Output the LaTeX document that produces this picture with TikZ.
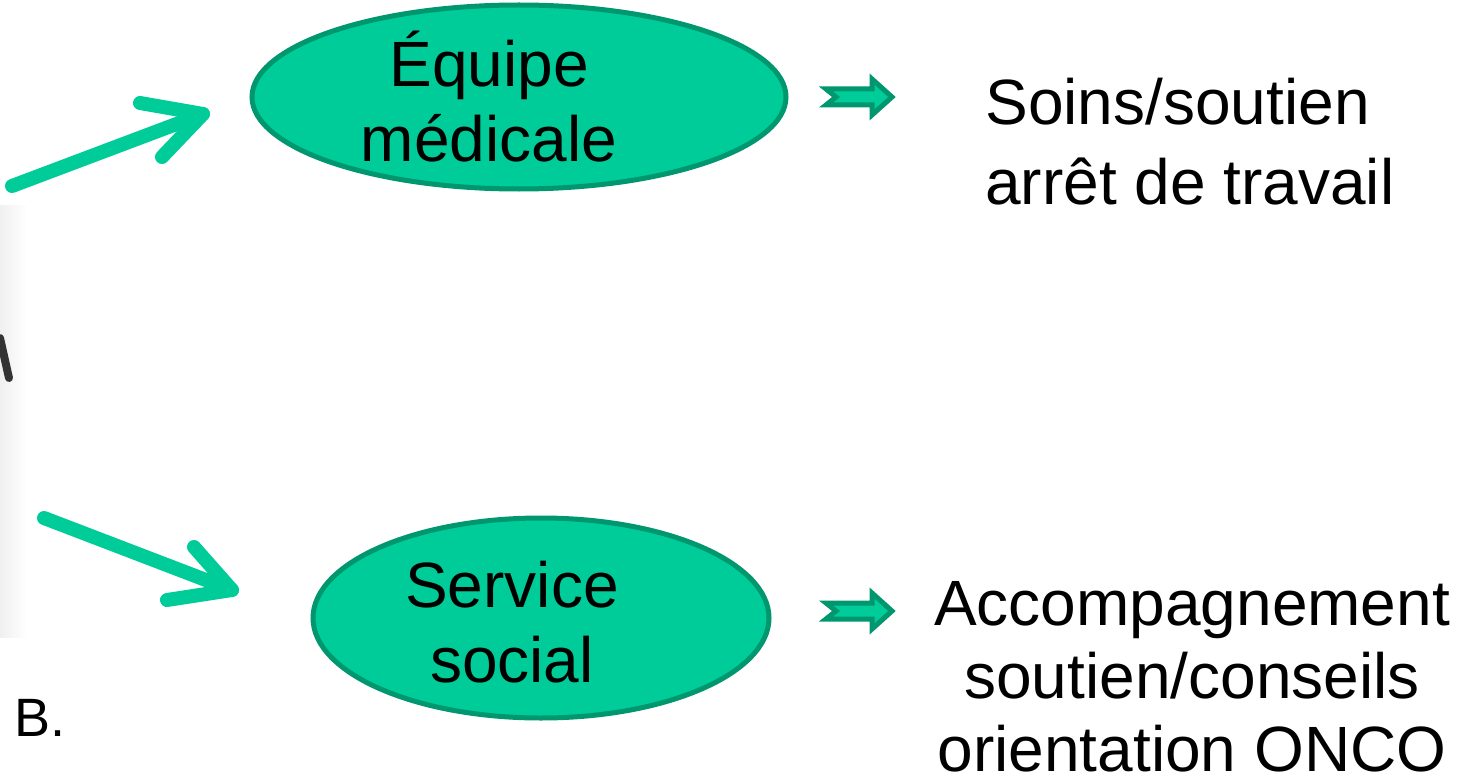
\documentclass[tikz,border=0pt]{standalone}
\usepackage{fontspec}
\setmainfont{Liberation Sans}
\usetikzlibrary{shapes.geometric}
\definecolor{ellfill}{RGB}{0,204,153}
\definecolor{elldraw}{RGB}{0,150,110}
\definecolor{arrgreen}{RGB}{0,204,153}
\begin{document}
\begin{tikzpicture}[x=0.5pt,y=-0.5pt,
  oval/.style={ellipse, fill=ellfill, draw=elldraw, line width=2.5pt, inner sep=0pt},
  lbl/.style={font=\fontsize{32}{37.5}\selectfont, align=center, inner sep=0pt},
  bigarrow/.style={draw=arrgreen, line width=7pt, line cap=round, line join=round},
  blockarrow/.style={fill=ellfill, draw=elldraw, line width=2.5pt, line join=miter}]
\useasboundingbox (0,0) rectangle (1472,781);
% cropped picture fragment on the left
\fill[left color=gray!12, right color=white] (0,205) rectangle (27,637);
\draw[line width=4pt, black!80, line cap=round] (0,338) -- (9,378);
% ellipses
\node[oval, minimum width=267pt, minimum height=92pt] (eq) at (519,97) {};
\node[lbl] (eqt) at (489,97) {Équipe\\médicale};
\node[oval, minimum width=228pt, minimum height=100pt] (ss) at (541,618) {};
\node[lbl] (sst) at (512,622) {Service\\social};
% right texts
\node[lbl, anchor=west, align=left, font=\fontsize{32}{40}\selectfont] (t1) at (985,142) {Soins/soutien\\arrêt de travail};
\node[lbl, font=\fontsize{32}{36.5}\selectfont] (t2) at (1192,677) {Accompagnement\\soutien/conseils\\orientation ONCO};
\node[font=\fontsize{27}{30}\selectfont, inner sep=0pt, anchor=west] (b) at (14,718) {B.};
% left arrows
\coordinate (a1s) at (12,186);
\coordinate (a1t) at (203,114);
\coordinate (a2s) at (44,518);
\coordinate (a2t) at (232,590);
\draw[bigarrow] (a1s) -- (a1t);
\draw[bigarrow] (140,103) -- (a1t) -- (162,157);
\draw[bigarrow] (a2s) -- (a2t);
\draw[bigarrow] (194,547) -- (a2t) -- (167,600);
% block arrows
\coordinate (ba1) at (823,97);
\coordinate (ba2) at (823,611);
\foreach \c in {ba1,ba2}{
  \draw[blockarrow] ([shift={(3,-8)}]\c) -- ++(46,0) -- ++(0,-10) -- ++(20,18) -- ++(-20,18) -- ++(0,-10) -- ++(-46,0) -- ++(10,-8) -- cycle;
}
\end{tikzpicture}
\end{document}
